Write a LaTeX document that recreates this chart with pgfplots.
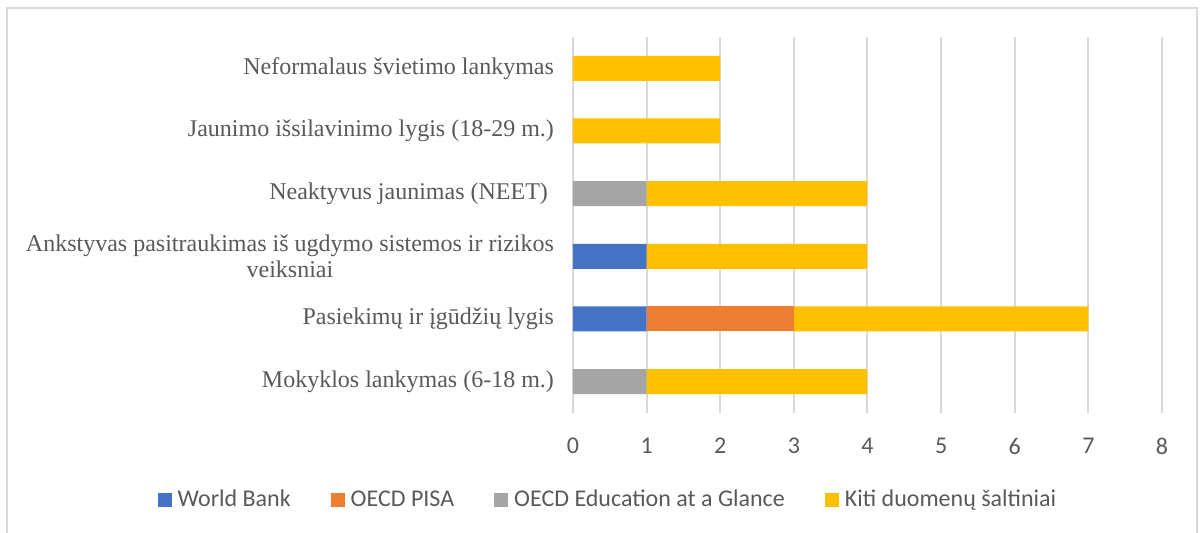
\documentclass[border=0pt]{standalone}
\usepackage{pgfplots}
\pgfplotsset{compat=1.18}
\usepackage{fontspec}
\setmainfont{Liberation Serif}
\newfontfamily\calibri{Carlito}
\definecolor{cBlue}{HTML}{4472C4}
\definecolor{cOrange}{HTML}{ED7D31}
\definecolor{cGray}{HTML}{A5A5A5}
\definecolor{cYellow}{HTML}{FFC000}
\definecolor{txt}{HTML}{595959}
\definecolor{gridc}{HTML}{D9D9D9}
\begin{document}
\begin{tikzpicture}
\path[use as bounding box] (0,0) rectangle (600.5pt,266.5pt);
\draw[gridc, line width=1pt] (3.5pt,0) -- (3.5pt,262.5pt) -- (598.5pt,262.5pt) -- (598.5pt,0);
\begin{axis}[
  at={(286.5pt,60pt)}, anchor=south west,
  scale only axis, width=294.5pt, height=188pt,
  xbar stacked, bar width=12.5pt,
  xmin=0, xmax=8, ymin=-0.5, ymax=5.5,
  xtick={0,...,8},
  ytick={0,1,2,3,4,5},
  yticklabels={Mokyklos lankymas (6-18 m.),Pasiekimų ir įgūdžių lygis,{Ankstyvas pasitraukimas iš ugdymo sistemos ir rizikos\\veiksniai},Neaktyvus jaunimas (NEET)\hspace{0.25em},Jaunimo išsilavinimo lygis (18-29 m.),Neformalaus švietimo lankymas},
  yticklabel style={font=\fontsize{12pt}{13pt}\selectfont, text=txt, align=center, xshift=-6pt},
  xticklabel style={font=\calibri\fontsize{12pt}{14pt}\selectfont, text=txt, yshift=-9pt},
  /pgf/number format/assume math mode=true,
  major tick length=0pt,
  axis line style={draw=none},
  xmajorgrids, grid style={gridc, line width=1pt},
  legend columns=4,
  legend style={at={(0.0577,-0.2314)}, anchor=center, draw=none, fill=none,
    font=\calibri\fontsize{12pt}{14pt}\selectfont, text=txt,
    nodes={inner sep=0pt},
    /tikz/every odd column/.append style={column sep=3pt},
    /tikz/every even column/.append style={column sep=20pt}},
  legend image code/.code={\fill[#1] (0pt,-3.5pt) rectangle (7pt,3.5pt);},
]
\addplot[fill=cBlue, draw=none] coordinates {(0,0) (1,1) (1,2) (0,3) (0,4) (0,5)};
\addplot[fill=cOrange, draw=none] coordinates {(0,0) (2,1) (0,2) (0,3) (0,4) (0,5)};
\addplot[fill=cGray, draw=none] coordinates {(1,0) (0,1) (0,2) (1,3) (0,4) (0,5)};
\addplot[fill=cYellow, draw=none] coordinates {(3,0) (4,1) (3,2) (3,3) (2,4) (2,5)};
\legend{World Bank, OECD PISA, OECD Education at a Glance, Kiti duomenų šaltiniai}
\end{axis}
\end{tikzpicture}
\end{document}
